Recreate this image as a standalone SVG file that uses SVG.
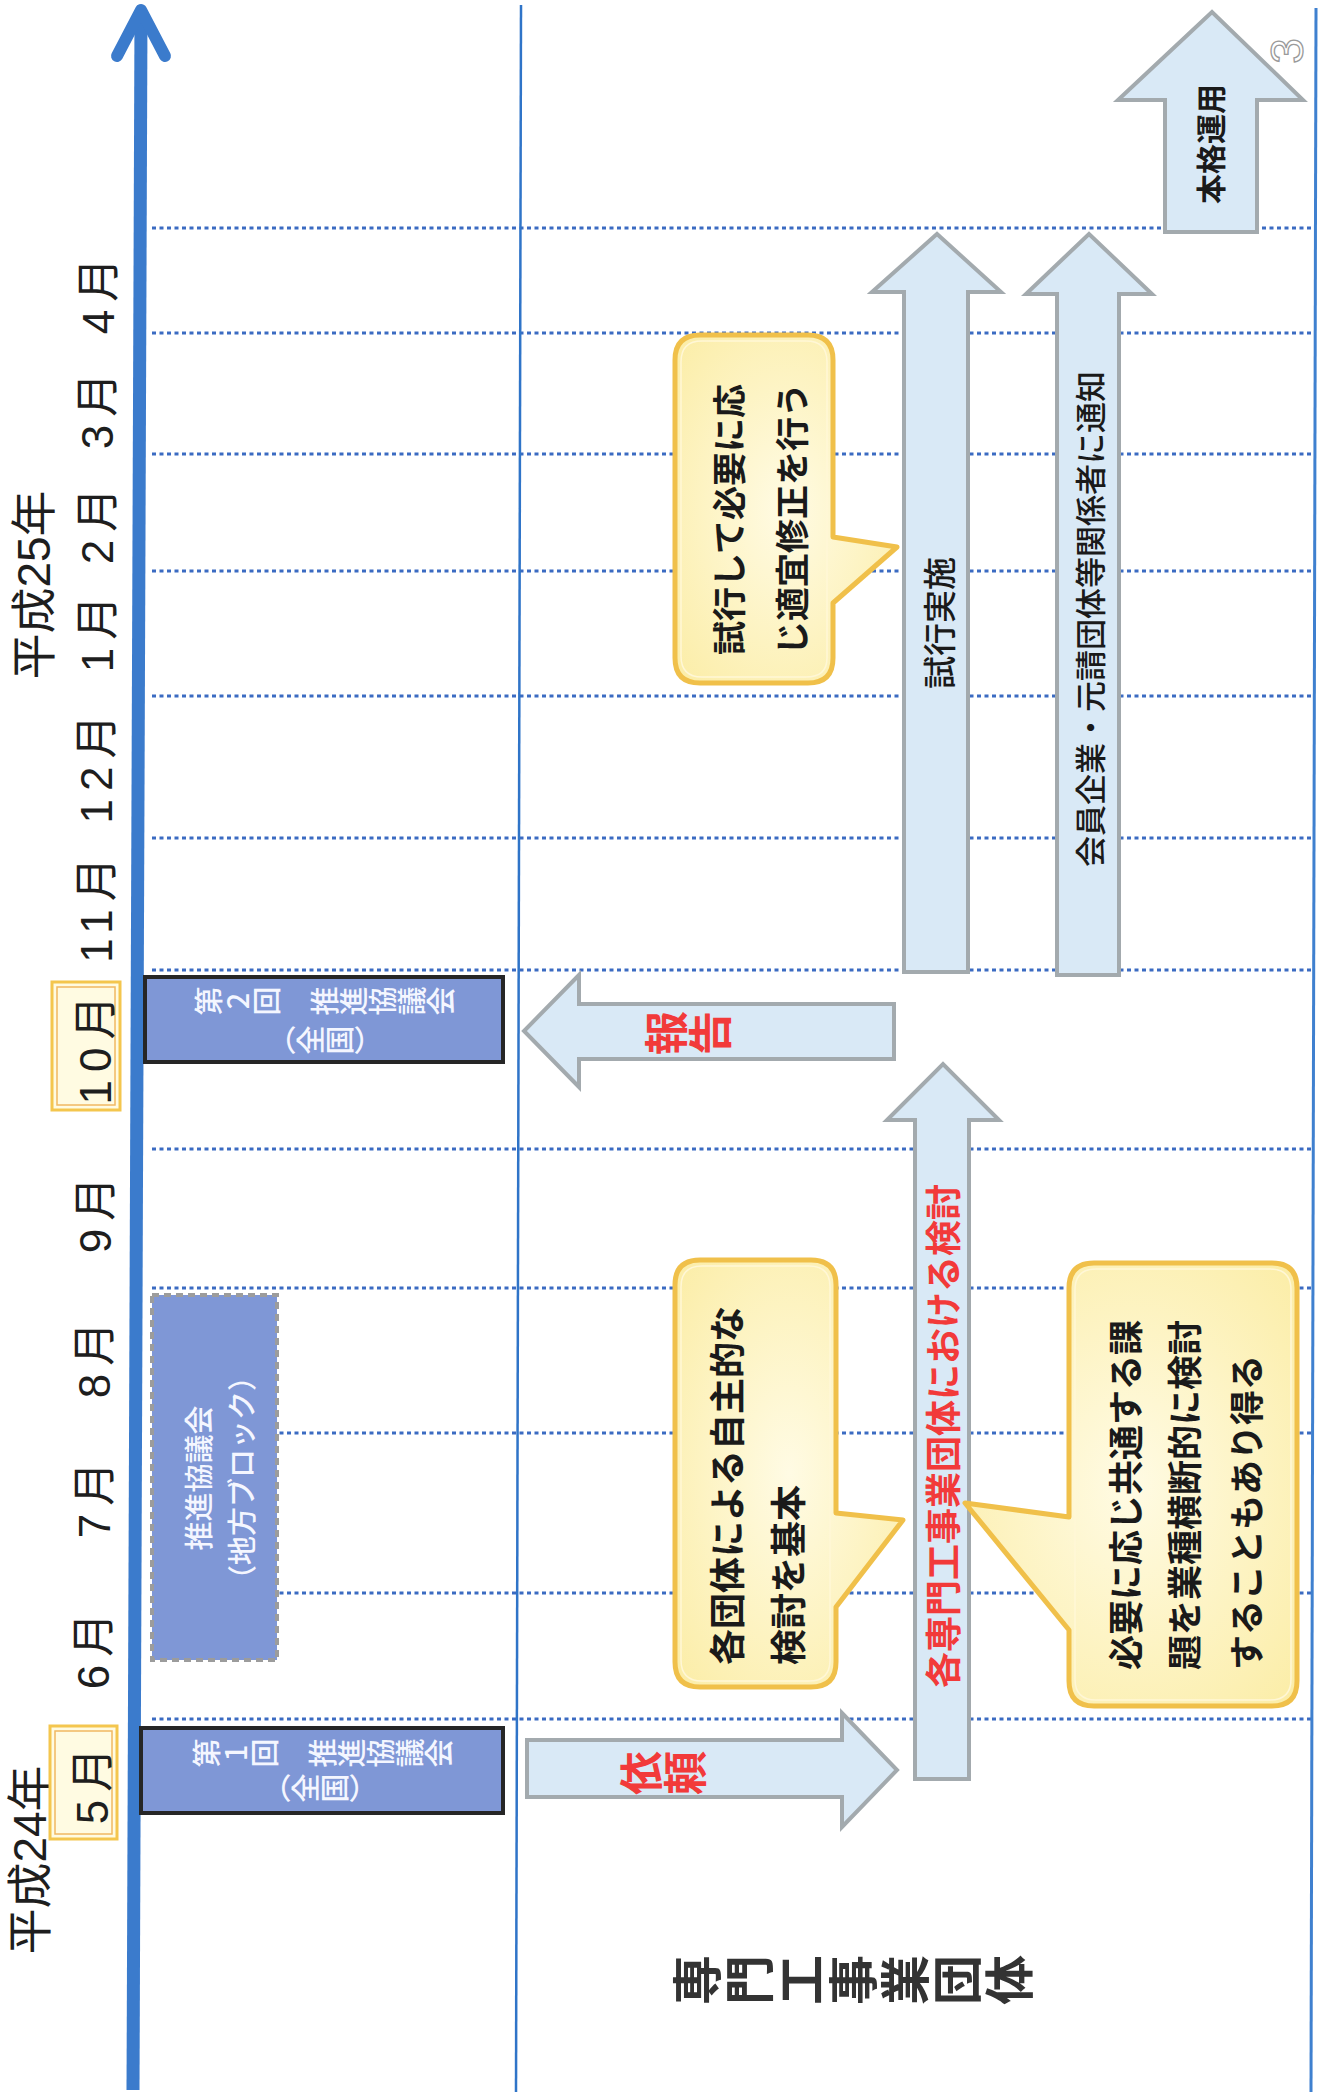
<svg xmlns="http://www.w3.org/2000/svg" width="1320" height="2096" viewBox="0 0 1320 2096">
<defs>
  <radialGradient id="cg" cx="50%" cy="50%" r="75%">
    <stop offset="0" stop-color="#fffbe4"/>
    <stop offset="1" stop-color="#fbeca2"/>
  </radialGradient>
</defs>
<style>
  .grid{stroke:#3b6bc2;stroke-width:3.2;stroke-dasharray:4 3.5;fill:none}
  .month{font-family:"Liberation Sans","Noto Sans CJK JP",sans-serif;font-size:44px;fill:#1e1e1e;letter-spacing:8px}
  .year{font-family:"Liberation Sans","Noto Sans CJK JP",sans-serif;font-size:46px;fill:#1e1e1e}
  .hlo{fill:#fffbe2;stroke:#f4c64e;stroke-width:3}
  .hli{fill:none;stroke:#f1b862;stroke-width:1.5}
  .meet{fill:#7f97d6;stroke:#262626;stroke-width:4}
  .meetd{fill:#7f97d6;stroke:#9c9c9c;stroke-width:4;stroke-dasharray:7 5}
  .wt{font-family:"Noto Sans CJK JP",sans-serif;fill:#f4f6ff;font-size:29px;font-weight:500}
  .vt{writing-mode:vertical-rl;text-orientation:upright}
  .blk{fill:#d9e9f6;stroke:#a3aaae;stroke-width:4}
  .red{font-family:"Noto Sans CJK JP",sans-serif;font-weight:700;fill:#f23a3a}
  .bt{font-family:"Noto Sans CJK JP",sans-serif;fill:#1a1a1a}
  .co{fill:url(#cg);stroke:#f0c04a;stroke-width:5;stroke-linejoin:round}
  .co2{fill:none;stroke:#fff7d6;stroke-width:1.5;stroke-linejoin:round}
  .ct{font-family:"Noto Sans CJK JP",sans-serif;font-weight:700;fill:#1a1a1a}
</style>

<g id="grid">
  <path class="grid" d="M152 228H1313M152 333H1313M152 454H1313M152 571H1313M152 696H1313M152 838H1313M152 970H1313M152 1149H1313M152 1288H1313M152 1433H1313M152 1593H1313M152 1719H1313"/>
  <line x1="521" y1="5" x2="516" y2="2092" stroke="#2f74c8" stroke-width="2.5"/>
  <line x1="1316" y1="8" x2="1311" y2="2092" stroke="#3f80cf" stroke-width="3"/>
</g>

<g id="axis">
  <line x1="141" y1="14" x2="133" y2="2090" stroke="#3b7bcc" stroke-width="13"/>
  <polyline points="117,56 141,10 165,56" fill="none" stroke="#3b7bcc" stroke-width="12" stroke-linecap="round" stroke-linejoin="round"/>
</g>

<g id="labels">
  <text class="year" x="34" y="585" text-anchor="middle" dominant-baseline="central" transform="rotate(-90 34 585)">平成25年</text>
  <text class="year" x="30" y="1860" text-anchor="middle" dominant-baseline="central" transform="rotate(-90 30 1860)">平成24年</text>
  <rect class="hlo" x="52" y="982" width="68" height="128"/>
  <rect class="hli" x="57" y="987" width="58" height="118"/>
  <rect class="hlo" x="50" y="1726" width="67" height="113"/>
  <rect class="hli" x="55" y="1731" width="57" height="103"/>
  <text class="month" x="98" y="292" text-anchor="middle" dominant-baseline="central" transform="rotate(-90 98 292)">4月</text>
  <text class="month" x="97" y="407" text-anchor="middle" dominant-baseline="central" transform="rotate(-90 97 407)">3月</text>
  <text class="month" x="97" y="522" text-anchor="middle" dominant-baseline="central" transform="rotate(-90 97 522)">2月</text>
  <text class="month" x="97" y="630" text-anchor="middle" dominant-baseline="central" transform="rotate(-90 97 630)">1月</text>
  <text class="month" x="96" y="765" text-anchor="middle" dominant-baseline="central" transform="rotate(-90 96 765)">12月</text>
  <text class="month" x="96" y="906" text-anchor="middle" dominant-baseline="central" transform="rotate(-90 96 906)">11月</text>
  <text class="month" x="95" y="1046" text-anchor="middle" dominant-baseline="central" transform="rotate(-90 95 1046)">10月</text>
  <text class="month" x="95" y="1211" text-anchor="middle" dominant-baseline="central" transform="rotate(-90 95 1211)">9月</text>
  <text class="month" x="94" y="1356" text-anchor="middle" dominant-baseline="central" transform="rotate(-90 94 1356)">8月</text>
  <text class="month" x="94" y="1496" text-anchor="middle" dominant-baseline="central" transform="rotate(-90 94 1496)">7月</text>
  <text class="month" x="93" y="1647" text-anchor="middle" dominant-baseline="central" transform="rotate(-90 93 1647)">6月</text>
  <text class="month" x="92" y="1782" text-anchor="middle" dominant-baseline="central" transform="rotate(-90 92 1782)">5月</text>
  <text x="1287" y="51" font-family="Liberation Sans,sans-serif" font-size="46" fill="#ffffff" stroke="#9a9a9a" stroke-width="1.3" text-anchor="middle" dominant-baseline="central" transform="rotate(-90 1287 51)">3</text>
</g>

<g id="meeting1">
  <rect class="meet" x="141" y="1728" width="362" height="85"/>
  <text class="wt vt" x="323" y="1753" text-anchor="middle" transform="rotate(-90 323 1753)">第1回　推進協議会</text>
  <text class="wt vt" x="320" y="1788" text-anchor="middle" transform="rotate(-90 320 1788)">（全国）</text>
</g>

<g id="meeting2">
  <rect class="meet" x="145" y="977" width="358" height="85"/>
  <text class="wt vt" x="325" y="1001" text-anchor="middle" transform="rotate(-90 325 1001)">第2回　推進協議会</text>
  <text class="wt vt" x="325" y="1040" text-anchor="middle" transform="rotate(-90 325 1040)">（全国）</text>
</g>

<g id="meeting-block">
  <rect class="meetd" x="152" y="1295" width="125" height="365"/>
  <text class="wt" font-size="25" x="197" y="1478" text-anchor="middle" dominant-baseline="central" transform="rotate(-90 197 1478)">推進協議会</text>
  <text class="wt" font-size="25" x="240" y="1478" text-anchor="middle" dominant-baseline="central" transform="rotate(-90 240 1478)">（地方ブロック）</text>
</g>

<g id="connectors">
  <g id="request">
    <path class="blk" d="M527 1740H842V1713L897 1770L842 1827V1797H527Z"/>
    <text class="red vt" font-size="44" x="663" y="1773" text-anchor="middle" transform="rotate(-90 663 1773)">依頼</text>
  </g>
  <g id="report">
    <path class="blk" d="M894 1004H579V975L524 1031L579 1087V1059H894Z"/>
    <text class="red vt" font-size="44" x="688" y="1033" text-anchor="middle" transform="rotate(-90 688 1033)">報告</text>
  </g>
</g>

<g id="study">
  <path class="blk" d="M915 1779V1120H887L943 1064L999 1120H969V1779Z"/>
  <text class="red" font-size="36" x="941" y="1688" dominant-baseline="central" transform="rotate(-90 941 1688)">各専門工事業団体における検討</text>
</g>

<g id="trial">
  <path class="blk" d="M904 972V292H872L937 234L1001 292H968V972Z"/>
  <text class="bt" font-size="33" font-weight="500" x="938" y="623" text-anchor="middle" dominant-baseline="central" transform="rotate(-90 938 623)">試行実施</text>
</g>

<g id="notify">
  <path class="blk" d="M1057 975V294H1026L1089 234L1152 294H1119V975Z"/>
  <text class="bt" font-size="31" font-weight="500" x="1088" y="619" text-anchor="middle" dominant-baseline="central" transform="rotate(-90 1088 619)">会員企業・元請団体等関係者に通知</text>
</g>

<g id="full-operation">
  <path class="blk" d="M1165 232V100H1118L1212 12L1303 100H1257V232Z"/>
  <text class="bt" font-size="30" font-weight="700" x="1209" y="144" text-anchor="middle" dominant-baseline="central" transform="rotate(-90 1209 144)">本格運用</text>
</g>

<g id="callout-trial">
  <path class="co" d="M700 335H808Q833 335 833 360V537L897 547L833 603V658Q833 683 808 683H700Q675 683 675 658V360Q675 335 700 335Z"/>
  <path class="co2" d="M702 341H806Q827 341 827 362V658Q827 677 806 677H702Q681 677 681 656V362Q681 341 702 341Z"/>
  <text class="ct" font-size="34" x="727" y="655" dominant-baseline="central" transform="rotate(-90 727 655)">試行して必要に応</text>
  <text class="ct" font-size="34" x="790" y="655" dominant-baseline="central" transform="rotate(-90 790 655)">じ適宜修正を行う</text>
</g>

<g id="callout-self">
  <path class="co" d="M700 1260H811Q836 1260 836 1285V1513L903 1520L836 1607V1662Q836 1687 811 1687H700Q675 1687 675 1662V1285Q675 1260 700 1260Z"/>
  <path class="co2" d="M702 1266H809Q830 1266 830 1287V1660Q830 1681 809 1681H702Q681 1681 681 1660V1287Q681 1266 702 1266Z"/>
  <text class="ct" font-size="36" x="725" y="1665" dominant-baseline="central" transform="rotate(-90 725 1665)">各団体による自主的な</text>
  <text class="ct" font-size="36" x="786" y="1665" dominant-baseline="central" transform="rotate(-90 786 1665)">検討を基本</text>
</g>

<g id="callout-cross">
  <path class="co" d="M1094 1263H1272Q1297 1263 1297 1288V1681Q1297 1706 1272 1706H1094Q1069 1706 1069 1681V1630L965 1503L1069 1517V1288Q1069 1263 1094 1263Z"/>
  <path class="co2" d="M1096 1269H1270Q1291 1269 1291 1290V1679Q1291 1700 1270 1700H1096Q1075 1700 1075 1679V1290Q1075 1269 1096 1269Z"/>
  <text class="ct" font-size="35" x="1123" y="1670" dominant-baseline="central" transform="rotate(-90 1123 1670)">必要に応じ共通する課</text>
  <text class="ct" font-size="35" x="1182" y="1670" dominant-baseline="central" transform="rotate(-90 1182 1670)">題を業種横断的に検討</text>
  <text class="ct" font-size="35" x="1244" y="1670" dominant-baseline="central" transform="rotate(-90 1244 1670)">することもあり得る</text>
</g>

<g id="actor">
  <text class="vt" font-family="Noto Sans CJK JP,sans-serif" font-weight="700" font-size="50" letter-spacing="2" fill="#333333" x="854" y="1980" text-anchor="middle" transform="rotate(-90 854 1980)">専門工事業団体</text>
</g>
</svg>
